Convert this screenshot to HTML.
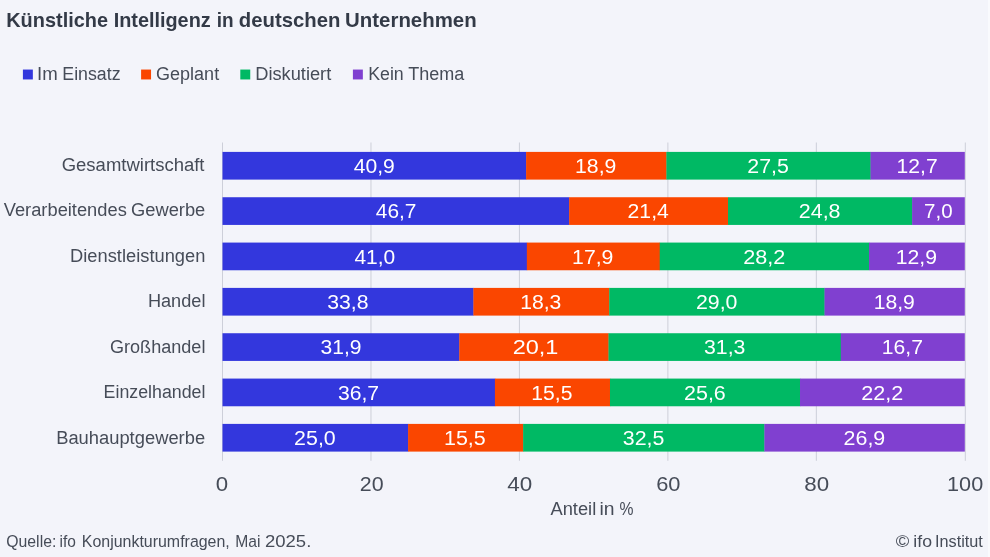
<!DOCTYPE html><html lang="de"><head><meta charset="utf-8"><title>Künstliche Intelligenz in deutschen Unternehmen</title>
<style>html,body{margin:0;padding:0;background:#f3f4fa;}body{width:990px;height:557px;overflow:hidden;}svg{display:block;}text{font-family:"Liberation Sans", sans-serif;}</style></head><body>
<svg width="990" height="557" viewBox="0 0 990 557">
<rect width="990" height="557" fill="#f3f4fa"/>
<rect x="22.9" y="69.55" width="9.95" height="9.9" fill="#3337dd"/>
<rect x="141.1" y="69.55" width="9.95" height="9.9" fill="#fa4600"/>
<rect x="240.3" y="69.55" width="9.95" height="9.9" fill="#00b964"/>
<rect x="352.9" y="69.55" width="9.95" height="9.9" fill="#8040d0"/>
<rect x="222.00" y="142.5" width="1" height="318.3" fill="#cdcfd9"/>
<rect x="370.46" y="142.5" width="1" height="318.3" fill="#cdcfd9"/>
<rect x="518.92" y="142.5" width="1" height="318.3" fill="#cdcfd9"/>
<rect x="667.38" y="142.5" width="1" height="318.3" fill="#cdcfd9"/>
<rect x="815.84" y="142.5" width="1" height="318.3" fill="#cdcfd9"/>
<rect x="964.80" y="142.5" width="1" height="318.3" fill="#cdcfd9"/>
<text y="26.8" font-size="21" font-weight="bold" fill="#333a47"><tspan x="6.22" textLength="101.83" lengthAdjust="spacingAndGlyphs">Künstliche</tspan> <tspan x="113.63" textLength="97.11" lengthAdjust="spacingAndGlyphs">Intelligenz</tspan> <tspan x="216.72" textLength="16.86" lengthAdjust="spacingAndGlyphs">in</tspan> <tspan x="238.81" textLength="101.59" lengthAdjust="spacingAndGlyphs">deutschen</tspan> <tspan x="345.12" textLength="131.49" lengthAdjust="spacingAndGlyphs">Unternehmen</tspan></text>
<text y="80.3" font-size="19.2" fill="#464c58"><tspan x="36.98" textLength="20.71" lengthAdjust="spacingAndGlyphs">Im</tspan> <tspan x="62.30" textLength="58.24" lengthAdjust="spacingAndGlyphs">Einsatz</tspan></text>
<text y="80.3" font-size="19.2" fill="#464c58"><tspan x="156.01" textLength="63.16" lengthAdjust="spacingAndGlyphs">Geplant</tspan></text>
<text y="80.3" font-size="19.2" fill="#464c58"><tspan x="255.22" textLength="76.03" lengthAdjust="spacingAndGlyphs">Diskutiert</tspan></text>
<text y="80.3" font-size="19.2" fill="#464c58"><tspan x="368.20" textLength="35.55" lengthAdjust="spacingAndGlyphs">Kein</tspan> <tspan x="408.26" textLength="56.07" lengthAdjust="spacingAndGlyphs">Thema</tspan></text>
<text y="171.0" font-size="19.2" fill="#464c58"><tspan x="61.70" textLength="142.83" lengthAdjust="spacingAndGlyphs">Gesamtwirtschaft</tspan></text>
<text y="216.4" font-size="19.2" fill="#464c58"><tspan x="3.76" textLength="123.03" lengthAdjust="spacingAndGlyphs">Verarbeitendes</tspan> <tspan x="131.02" textLength="74.28" lengthAdjust="spacingAndGlyphs">Gewerbe</tspan></text>
<text y="261.9" font-size="19.2" fill="#464c58"><tspan x="70.07" textLength="135.29" lengthAdjust="spacingAndGlyphs">Dienstleistungen</tspan></text>
<text y="307.3" font-size="19.2" fill="#464c58"><tspan x="147.90" textLength="57.57" lengthAdjust="spacingAndGlyphs">Handel</tspan></text>
<text y="352.7" font-size="19.2" fill="#464c58"><tspan x="109.97" textLength="95.44" lengthAdjust="spacingAndGlyphs">Großhandel</tspan></text>
<text y="398.1" font-size="19.2" fill="#464c58"><tspan x="103.61" textLength="101.83" lengthAdjust="spacingAndGlyphs">Einzelhandel</tspan></text>
<text y="443.6" font-size="19.2" fill="#464c58"><tspan x="56.16" textLength="148.95" lengthAdjust="spacingAndGlyphs">Bauhauptgewerbe</tspan></text>
<text y="491.0" font-size="19.5" fill="#464c58"><tspan x="215.73" textLength="12.40" lengthAdjust="spacingAndGlyphs">0</tspan></text>
<text y="491.0" font-size="19.5" fill="#464c58"><tspan x="359.75" textLength="23.83" lengthAdjust="spacingAndGlyphs">20</tspan></text>
<text y="491.0" font-size="19.5" fill="#464c58"><tspan x="507.36" textLength="24.96" lengthAdjust="spacingAndGlyphs">40</tspan></text>
<text y="491.0" font-size="19.5" fill="#464c58"><tspan x="656.19" textLength="24.30" lengthAdjust="spacingAndGlyphs">60</tspan></text>
<text y="491.0" font-size="19.5" fill="#464c58"><tspan x="804.38" textLength="24.87" lengthAdjust="spacingAndGlyphs">80</tspan></text>
<text y="491.0" font-size="19.5" fill="#464c58"><tspan x="947.07" textLength="36.11" lengthAdjust="spacingAndGlyphs">100</tspan></text>
<text y="515.2" font-size="19.2" fill="#464c58"><tspan x="550.49" textLength="45.74" lengthAdjust="spacingAndGlyphs">Anteil</tspan> <tspan x="599.41" textLength="15.05" lengthAdjust="spacingAndGlyphs">in</tspan> <tspan x="619.61" textLength="13.98" lengthAdjust="spacingAndGlyphs">%</tspan></text>
<text y="547.0" font-size="16.8" fill="#464c58"><tspan x="6.28" textLength="50.04" lengthAdjust="spacingAndGlyphs">Quelle:</tspan> <tspan x="59.56" textLength="16.36" lengthAdjust="spacingAndGlyphs">ifo</tspan> <tspan x="81.81" textLength="147.99" lengthAdjust="spacingAndGlyphs">Konjunkturumfragen,</tspan> <tspan x="235.16" textLength="25.20" lengthAdjust="spacingAndGlyphs">Mai</tspan> <tspan x="265.01" textLength="46.30" lengthAdjust="spacingAndGlyphs">2025.</tspan></text>
<text y="547.0" font-size="16.8" fill="#464c58"><tspan x="895.71" textLength="13.54" lengthAdjust="spacingAndGlyphs">©</tspan> <tspan x="913.30" textLength="18.69" lengthAdjust="spacingAndGlyphs">ifo</tspan> <tspan x="935.11" textLength="47.74" lengthAdjust="spacingAndGlyphs">Institut</tspan></text>
<rect x="222.50" y="151.90" width="303.90" height="27.70" fill="#3337dd"/>
<rect x="526.10" y="151.90" width="140.59" height="27.70" fill="#fa4600"/>
<rect x="666.40" y="151.90" width="204.43" height="27.70" fill="#00b964"/>
<rect x="870.53" y="151.90" width="94.27" height="27.70" fill="#8040d0"/>
<rect x="222.50" y="197.23" width="346.95" height="27.70" fill="#3337dd"/>
<rect x="569.15" y="197.23" width="159.15" height="27.70" fill="#fa4600"/>
<rect x="728.01" y="197.23" width="184.39" height="27.70" fill="#00b964"/>
<rect x="912.10" y="197.23" width="52.70" height="27.70" fill="#8040d0"/>
<rect x="222.50" y="242.57" width="304.64" height="27.70" fill="#3337dd"/>
<rect x="526.84" y="242.57" width="133.17" height="27.70" fill="#fa4600"/>
<rect x="659.71" y="242.57" width="209.63" height="27.70" fill="#00b964"/>
<rect x="869.04" y="242.57" width="95.76" height="27.70" fill="#8040d0"/>
<rect x="222.50" y="287.90" width="251.20" height="27.70" fill="#3337dd"/>
<rect x="473.40" y="287.90" width="136.14" height="27.70" fill="#fa4600"/>
<rect x="609.24" y="287.90" width="215.57" height="27.70" fill="#00b964"/>
<rect x="824.51" y="287.90" width="140.29" height="27.70" fill="#8040d0"/>
<rect x="222.50" y="333.23" width="237.09" height="27.70" fill="#3337dd"/>
<rect x="459.29" y="333.23" width="149.50" height="27.70" fill="#fa4600"/>
<rect x="608.50" y="333.23" width="232.64" height="27.70" fill="#00b964"/>
<rect x="840.84" y="333.23" width="123.96" height="27.70" fill="#8040d0"/>
<rect x="222.50" y="378.57" width="272.72" height="27.70" fill="#3337dd"/>
<rect x="494.92" y="378.57" width="115.36" height="27.70" fill="#fa4600"/>
<rect x="609.98" y="378.57" width="190.33" height="27.70" fill="#00b964"/>
<rect x="800.01" y="378.57" width="164.79" height="27.70" fill="#8040d0"/>
<rect x="222.50" y="423.90" width="185.88" height="27.70" fill="#3337dd"/>
<rect x="408.07" y="423.90" width="115.36" height="27.70" fill="#fa4600"/>
<rect x="523.13" y="423.90" width="241.55" height="27.70" fill="#00b964"/>
<rect x="764.38" y="423.90" width="200.42" height="27.70" fill="#8040d0"/>
<text x="353.75" y="172.9" font-size="19.5" fill="#ffffff" textLength="41.04" lengthAdjust="spacingAndGlyphs">40,9</text>
<text x="575.10" y="172.9" font-size="19.5" fill="#ffffff" textLength="41.20" lengthAdjust="spacingAndGlyphs">18,9</text>
<text x="747.38" y="172.9" font-size="19.5" fill="#ffffff" textLength="41.53" lengthAdjust="spacingAndGlyphs">27,5</text>
<text x="896.57" y="172.9" font-size="19.5" fill="#ffffff" textLength="41.11" lengthAdjust="spacingAndGlyphs">12,7</text>
<text x="375.83" y="218.2" font-size="19.5" fill="#ffffff" textLength="40.65" lengthAdjust="spacingAndGlyphs">46,7</text>
<text x="627.60" y="218.2" font-size="19.5" fill="#ffffff" textLength="41.18" lengthAdjust="spacingAndGlyphs">21,4</text>
<text x="798.79" y="218.2" font-size="19.5" fill="#ffffff" textLength="41.76" lengthAdjust="spacingAndGlyphs">24,8</text>
<text x="924.05" y="218.2" font-size="19.5" fill="#ffffff" textLength="28.50" lengthAdjust="spacingAndGlyphs">7,0</text>
<text x="354.44" y="263.6" font-size="19.5" fill="#ffffff" textLength="40.86" lengthAdjust="spacingAndGlyphs">41,0</text>
<text x="572.08" y="263.6" font-size="19.5" fill="#ffffff" textLength="41.35" lengthAdjust="spacingAndGlyphs">17,9</text>
<text x="743.29" y="263.6" font-size="19.5" fill="#ffffff" textLength="41.99" lengthAdjust="spacingAndGlyphs">28,2</text>
<text x="895.74" y="263.6" font-size="19.5" fill="#ffffff" textLength="41.23" lengthAdjust="spacingAndGlyphs">12,9</text>
<text x="327.23" y="308.9" font-size="19.5" fill="#ffffff" textLength="41.26" lengthAdjust="spacingAndGlyphs">33,8</text>
<text x="520.21" y="308.9" font-size="19.5" fill="#ffffff" textLength="41.18" lengthAdjust="spacingAndGlyphs">18,3</text>
<text x="695.96" y="308.9" font-size="19.5" fill="#ffffff" textLength="41.46" lengthAdjust="spacingAndGlyphs">29,0</text>
<text x="873.66" y="308.9" font-size="19.5" fill="#ffffff" textLength="41.12" lengthAdjust="spacingAndGlyphs">18,9</text>
<text x="320.48" y="354.2" font-size="19.5" fill="#ffffff" textLength="41.00" lengthAdjust="spacingAndGlyphs">31,9</text>
<text x="512.74" y="354.2" font-size="19.5" fill="#ffffff" textLength="45.70" lengthAdjust="spacingAndGlyphs">20,1</text>
<text x="704.03" y="354.2" font-size="19.5" fill="#ffffff" textLength="41.39" lengthAdjust="spacingAndGlyphs">31,3</text>
<text x="881.85" y="354.2" font-size="19.5" fill="#ffffff" textLength="41.14" lengthAdjust="spacingAndGlyphs">16,7</text>
<text x="337.93" y="399.6" font-size="19.5" fill="#ffffff" textLength="41.18" lengthAdjust="spacingAndGlyphs">36,7</text>
<text x="531.37" y="399.6" font-size="19.5" fill="#ffffff" textLength="41.07" lengthAdjust="spacingAndGlyphs">15,5</text>
<text x="684.00" y="399.6" font-size="19.5" fill="#ffffff" textLength="41.80" lengthAdjust="spacingAndGlyphs">25,6</text>
<text x="861.31" y="399.6" font-size="19.5" fill="#ffffff" textLength="41.97" lengthAdjust="spacingAndGlyphs">22,2</text>
<text x="294.13" y="444.9" font-size="19.5" fill="#ffffff" textLength="41.59" lengthAdjust="spacingAndGlyphs">25,0</text>
<text x="443.97" y="444.9" font-size="19.5" fill="#ffffff" textLength="41.76" lengthAdjust="spacingAndGlyphs">15,5</text>
<text x="622.83" y="444.9" font-size="19.5" fill="#ffffff" textLength="41.64" lengthAdjust="spacingAndGlyphs">32,5</text>
<text x="843.64" y="444.9" font-size="19.5" fill="#ffffff" textLength="41.65" lengthAdjust="spacingAndGlyphs">26,9</text>
<rect x="988" y="0" width="2" height="557" fill="#f9fafd"/>
</svg></body></html>
